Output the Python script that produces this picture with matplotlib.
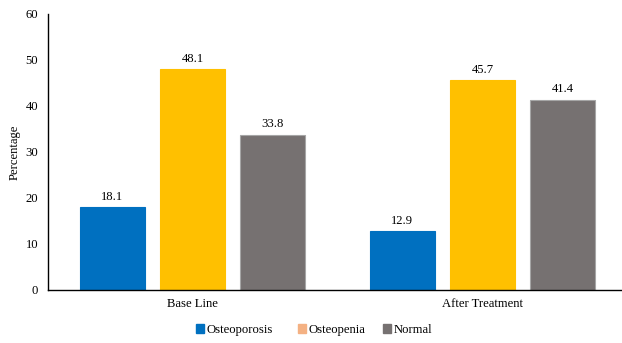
import matplotlib
matplotlib.use("Agg")
import matplotlib.pyplot as plt
import numpy as np

plt.rcParams['font.family'] = ['Liberation Serif', 'DejaVu Serif']

groups = ["Base Line", "After Treatment"]
series = ["Osteoporosis", "Osteopenia", "Normal"]
osteoporosis = [18.1, 12.9]
osteopenia = [48.1, 45.7]
normal = [33.8, 41.4]
values = [osteoporosis, osteopenia, normal]
bar_colors = ["#0070C0", "#FFC000", "#767171"]
edge_colors = ["#0070C0", "#FFC000", "#A6A6A6"]
legend_colors = ["#0070C0", "#F4B183", "#767171"]
legend_x = [196, 298, 383]  # left edge of each legend entry, in pixels

FS = 9.1
W, H = 622, 343
fig = plt.figure(figsize=(W / 100, H / 100), dpi=100)
ax = fig.add_axes([48 / W, 53 / H, 574 / W, 276 / H])

x = np.arange(len(groups))
width = 0.224
step = 0.276
for i, (vals, c, ec) in enumerate(zip(values, bar_colors, edge_colors)):
    bars = ax.bar(x + (i - 1) * step, vals, width=width, color=c,
                  edgecolor=ec, linewidth=0.8)
    for b, v in zip(bars, vals):
        ax.text(b.get_x() + b.get_width() / 2, v + 0.9, f"{v:.1f}",
                ha="center", va="bottom", fontsize=FS)

ax.set_xlim(-0.498, 1.481)
ax.set_ylim(0, 60)
ax.set_yticks(range(0, 61, 10))
ax.set_xticks(x)
ax.set_xticklabels(groups)
ax.tick_params(axis="both", length=0, labelsize=FS)
ax.tick_params(axis="y", pad=7)
ax.tick_params(axis="x", pad=6)
for s in ["top", "right"]:
    ax.spines[s].set_visible(False)
ax.spines["left"].set_linewidth(1.0)
ax.spines["bottom"].set_linewidth(1.0)
ax.set_ylabel("Percentage", fontsize=FS)
ax.yaxis.set_label_coords(-0.047, 0.5)

# one legend entry per series, placed side by side under the axes
for name, c, lx in zip(series, legend_colors, legend_x):
    h = plt.Rectangle((0, 0), 1, 1, color=c)
    fig.legend([h], [name], loc="center left", bbox_to_anchor=(lx / W, 1 - 330 / H),
               frameon=False, fontsize=FS, handlelength=0.65, handleheight=0.65,
               handletextpad=0.2, borderaxespad=0, borderpad=0)

fig.savefig("out.png", dpi=100)
